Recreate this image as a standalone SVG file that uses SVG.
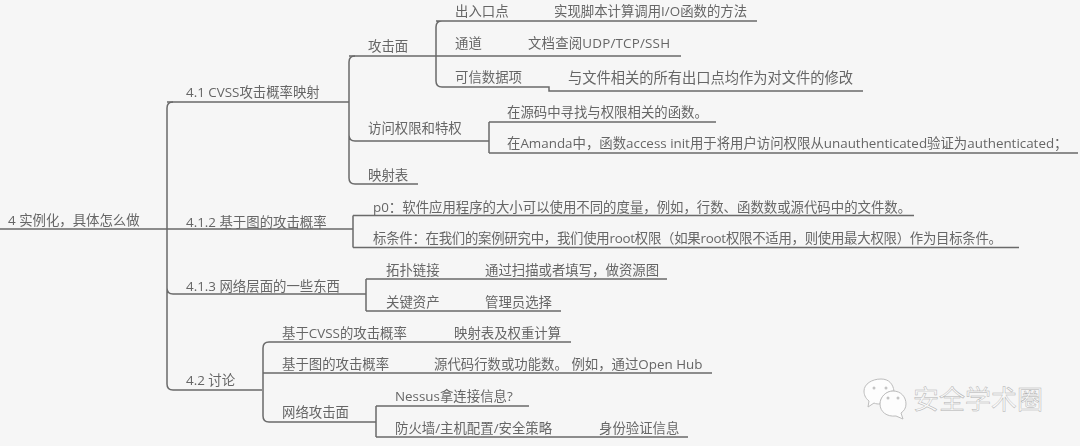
<svg xmlns="http://www.w3.org/2000/svg" width="1080" height="446" viewBox="0 0 1080 446">
<defs><filter id="s" x="-5%" y="-20%" width="110%" height="140%"><feGaussianBlur stdDeviation="0.25"/></filter></defs>
<style>
text{font-family:"Open Sans","Noto Sans CJK SC",sans-serif;font-size:13.4px;fill:#666;filter:url(#s)}
.c{fill:none;stroke:#6a6a6a;stroke-width:1.5}
text.w{font-family:"Noto Sans CJK SC",sans-serif;font-size:26px;fill:#f9f9f9;stroke:#b0b0b0;stroke-width:.45}
.b{fill:#fdfdfd;stroke:#bdbdbd;stroke-width:1}
.d{fill:#c4c4c4}
</style>
<rect width="1080" height="446" fill="#f6f6f6"/>
<g id="connectors" class="c">
<path d="M0 229H167M353 229H167M173 102Q167 102 167 108V384Q167 390 173 390H262M167 288Q167 294 173 294H366"/>
<path d="M355 56Q349 56 349 62V178Q349 184 355 184H418M349 135Q349 141 355 141H489M167 102H349"/>
<path d="M349 56H436M442 21Q436 21 436 27V81Q436 87 442 87H549V91H863M436 21H757M436 56H681"/>
<path d="M489 122V153M489 122H716M489 153H1078"/>
<path d="M353 215.500V247.500M353 215.500H914M353 247.500H1019"/>
<path d="M366 279V311M366 279H667M366 311H561"/>
<path d="M269 342Q263 342 263 348V416Q263 422 269 422H376M263 373H712M269 342H571"/>
<path d="M376 406V437M376 406H529M376 437H688"/>
</g>
<g id="root"><text x="8" y="225">4 实例化，具体怎么做</text></g>
<g id="n41"><text x="186" y="97">4.1 CVSS攻击概率映射</text></g>
<g id="n412"><text x="186" y="227">4.1.2 基于图的攻击概率</text></g>
<g id="n413"><text x="186" y="291">4.1.3 网络层面的一些东西</text></g>
<g id="n42"><text x="186" y="385">4.2 讨论</text></g>
<g id="attack-surface"><text x="368" y="51">攻击面</text></g>
<g id="access"><text x="368" y="133">访问权限和特权</text></g>
<g id="mapping"><text x="368" y="180">映射表</text></g>
<g id="entry"><text x="455" y="16">出入口点</text></g>
<g id="entry-note"><text x="554" y="16">实现脚本计算调用I/O函数的方法</text></g>
<g id="channel"><text x="455" y="48">通道</text></g>
<g id="channel-note"><text x="528" y="48" textLength="142">文档查阅UDP/TCP/SSH</text></g>
<g id="trusted"><text x="455" y="82">可信数据项</text></g>
<g id="trusted-note"><text x="568" y="83" style="font-size:14.250px">与文件相关的所有出口点均作为对文件的修改</text></g>
<g id="access-a"><text x="507" y="117">在源码中寻找与权限相关的函数。</text></g>
<g id="access-b"><text x="507" y="148">在Amanda中，函数access init用于将用户访问权限从unauthenticated验证为authenticated；</text></g>
<g id="p0"><text x="373" y="212">p0：软件应用程序的大小可以使用不同的度量，例如，行数、函数数或源代码中的文件数。</text></g>
<g id="target"><text x="373" y="243" textLength="629">标条件：在我们的案例研究中，我们使用root权限（如果root权限不适用，则使用最大权限）作为目标条件。</text></g>
<g id="topology"><text x="386" y="275">拓扑链接</text></g>
<g id="topology-note"><text x="485" y="275">通过扫描或者填写，做资源图</text></g>
<g id="asset"><text x="386" y="307">关键资产</text></g>
<g id="asset-note"><text x="485" y="307">管理员选择</text></g>
<g id="cvss"><text x="282" y="338">基于CVSS的攻击概率</text></g>
<g id="cvss-note"><text x="454" y="338">映射表及权重计算</text></g>
<g id="graph"><text x="282" y="369">基于图的攻击概率</text></g>
<g id="graph-note"><text x="434" y="369">源代码行数或功能数。 例如，通过Open Hub</text></g>
<g id="network"><text x="282" y="417">网络攻击面</text></g>
<g id="nessus"><text x="395" y="401">Nessus拿连接信息?</text></g>
<g id="firewall"><text x="395" y="433">防火墙/主机配置/安全策略</text></g>
<g id="firewall-note"><text x="599" y="433">身份验证信息</text></g>
<g id="watermark">
<path class="b" d="M881 379C889 379 893 384 894 391C887 391 881 396 880 404C878 404 876 404 874 403L868 407L869 401C865 398 864 394 864 391C864 384 872 379 881 379Z"/>
<path class="b" d="M893 391C901 391 906 397 906 404C906 408 904 411 901 413L903 419L896 416C887 417 880 412 880 404C880 397 886 391 893 391Z"/>
<circle class="d" cx="874" cy="388" r="1.500"/><circle class="d" cx="886" cy="388" r="1.500"/>
<circle class="d" cx="888" cy="398" r="1.500"/><circle class="d" cx="898" cy="398" r="1.500"/>
<text class="w" x="913" y="409" style="filter:none">安全学术圈</text>
</g>
</svg>
